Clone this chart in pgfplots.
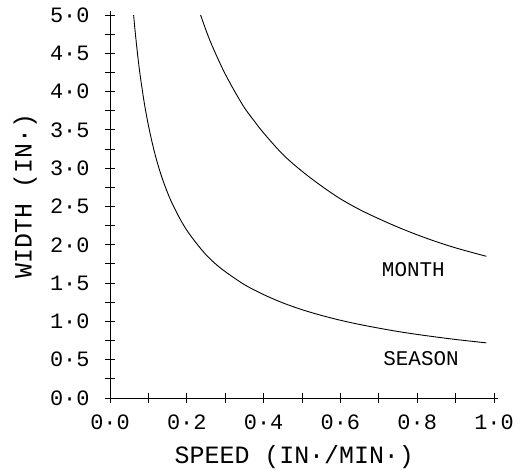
\documentclass[border=0pt]{standalone}
\usepackage{pgfplots}
\pgfplotsset{compat=1.18}
\usepackage{fontspec}
\setmainfont{Liberation Mono}
\begin{document}
\begin{tikzpicture}
\useasboundingbox (-110bp,-72bp) rectangle (418bp,398bp);
\begin{axis}[
  at={(0,0)}, anchor=south west,
  scale only axis, width=384bp, height=383bp,
  xmin=0, xmax=1, ymin=0, ymax=5,
  axis lines=left,
  axis line style={-, line width=1pt, shorten >=-4bp, shorten <=-3bp},
  tick align=center,
  major tick length=10bp, minor tick length=10bp,
  every tick/.style={black, line width=1pt},
  xtick={0,0.2,0.4,0.6,0.8,1.0},
  xticklabels={0·0,0·2,0·4,0·6,0·8,1·0},
  minor xtick={0.1,0.3,0.5,0.7,0.9},
  ytick={0,0.5,1,1.5,2,2.5,3,3.5,4,4.5,5},
  yticklabels={0·0,0·5,1·0,1·5,2·0,2·5,3·0,3·5,4·0,4·5,5·0},
  minor ytick={0.25,0.75,1.25,1.75,2.25,2.75,3.25,3.75,4.25,4.75},
  xticklabel style={font=\fontsize{22}{24}\selectfont, yshift=-8bp},
  yticklabel style={font=\fontsize{22}{24}\selectfont, anchor=east, xshift=-12bp},
  clip=false,
]
\addplot[black, line width=0.9pt, smooth] coordinates {
(0.0615,5.00) (0.065,4.81) (0.07,4.57) (0.075,4.35) (0.08,4.16) (0.09,3.83)
(0.10,3.56) (0.11,3.33) (0.12,3.13) (0.13,2.96) (0.14,2.81) (0.15,2.68)
(0.16,2.56) (0.18,2.36) (0.20,2.19) (0.225,2.02) (0.25,1.87) (0.275,1.75)
(0.30,1.65) (0.35,1.48) (0.40,1.35) (0.45,1.242) (0.50,1.153) (0.55,1.079)
(0.60,1.015) (0.65,0.960) (0.70,0.912) (0.75,0.868) (0.80,0.830) (0.85,0.796)
(0.90,0.764) (0.95,0.736) (0.98,0.720)
};
\addplot[black, line width=0.9pt, smooth] coordinates {
(0.236,5.00) (0.245,4.87) (0.26,4.67) (0.28,4.44) (0.30,4.23) (0.325,4.00)
(0.35,3.79) (0.375,3.62) (0.40,3.46) (0.45,3.18) (0.50,2.96) (0.55,2.77)
(0.60,2.60) (0.65,2.46) (0.70,2.34) (0.75,2.23) (0.80,2.13) (0.85,2.04)
(0.90,1.96) (0.95,1.89) (0.98,1.85)
};
\node[font=\fontsize{21}{23}\selectfont] at (axis cs:0.79,1.67) {MONTH};
\node[font=\fontsize{21}{23}\selectfont] at (axis cs:0.81,0.51) {SEASON};
\node[font=\fontsize{25}{27}\selectfont] at (axis description cs:0.48,-0.154) {SPEED (IN·/MIN·)};
\node[font=\fontsize{25}{27}\selectfont, rotate=90] at (axis description cs:-0.221,0.527) {WIDTH (IN·)};
\end{axis}
\end{tikzpicture}
\end{document}
